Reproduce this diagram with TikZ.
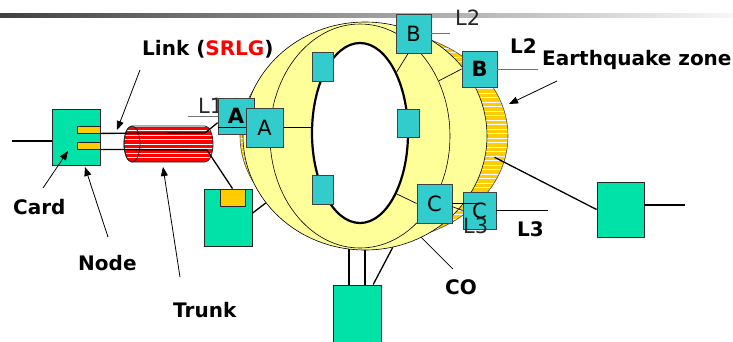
\documentclass[tikz,border=0pt]{standalone}
\usepackage{fontspec}
\setmainfont{DejaVu Sans}
\usepackage{tikz}
\usetikzlibrary{arrows.meta}
\usetikzlibrary{calc,shapes}

\definecolor{nodegreen}{RGB}{0,226,168}
\definecolor{portteal}{RGB}{51,204,204}
\definecolor{cardorange}{RGB}{255,204,0}
\definecolor{ringyellow}{RGB}{255,255,153}

\tikzset{
	nodebox/.style={draw=black!85,line width=0.9,fill=nodegreen,inner sep=0},
	cardbox/.style={draw=black!85,line width=0.8,fill=cardorange,inner sep=0},
	portbox/.style={draw=black!75,line width=0.8,fill=portteal,inner sep=0,font=\fontsize{21}{21}\selectfont},
	bold/.style={font=\fontsize{21}{21}\selectfont\bfseries},
	lbl/.style={font=\fontsize{20}{22}\selectfont\bfseries,inner sep=0},
	tag/.style={font=\fontsize{21}{22}\selectfont,text=black!85,inner sep=0},
	wire/.style={line width=1.3},
	thinwire/.style={line width=0.7},
	hint/.style={draw=black!55,line width=0.9},
	ptr/.style={line width=0.8,-{Triangle[length=9,width=7]}},
	stripes/.style={path picture={\foreach \k in {0,...,#1} \draw[white,line width=0.9] ($(path picture bounding box.north west)+(0,4.5*\k)$) -- ++(300,0);}},
}

\begin{document}
\begin{tikzpicture}[x=1pt,y=-1pt]
	\useasboundingbox (0,0) rectangle (733,341);
	\shade[left color=black!75,right color=black!3] (0,13) rectangle (733,17);
	% ring, earthquake zone and hole
	\node[ellipse,draw=black!70,line width=0.6,fill=cardorange,minimum width=268,minimum height=212,inner sep=0,stripes=50] (quake) at (374,136) {};
	\node[ellipse,draw,line width=0.6,fill=ringyellow,minimum width=244,minimum height=228,inner sep=0] (ring) at (365,136) {};
	\node[ellipse,draw,line width=0.6,minimum width=180,minimum height=224,inner sep=0] (mid) at (360,136) {};
	\node[ellipse,draw,line width=2.2,fill=white,minimum width=96,minimum height=180,inner sep=0] (hole) at (360,133) {};
	% trunk
	\path[draw=black!85,line width=0.8,fill=red,stripes=8] (132,126) -- (205,126) arc[start angle=-90,end angle=90,x radius=8,y radius=18]
		-- (132,162) arc[start angle=90,end angle=270,x radius=8,y radius=18] -- cycle;
	\draw[black!85,line width=0.8] (132,144) ellipse [x radius=8,y radius=18];
	% nodes and cards
	\node[nodebox,minimum width=48,minimum height=56] (nodeL) at (76,137) {};
	\node[cardbox,minimum width=23,minimum height=7] (card1) at (88.5,129.5) {};
	\node[cardbox,minimum width=23,minimum height=7] (card2) at (88.5,145.5) {};
	\node[nodebox,minimum width=48,minimum height=57] (nodeSW) at (228,217.5) {};
	\node[cardbox,minimum width=25,minimum height=17] (card3) at (232.5,197.5) {};
	\node[nodebox,minimum width=48,minimum height=60] (nodeB) at (357,315) {};
	\node[nodebox,minimum width=47,minimum height=55] (nodeR) at (620.5,209.5) {};
	% ports
	\node[tag,anchor=base west] (l1) at (198,113) {L1};
	\node[portbox,minimum width=21,minimum height=29] (p1) at (322.5,66.5) {};
	\node[portbox,minimum width=21,minimum height=29] (p2) at (322.5,189.5) {};
	\node[portbox,minimum width=22,minimum height=28] (p3) at (408,123) {};
	\node[portbox,bold,minimum width=36,minimum height=36] (A1) at (236,116) {A};
	\node[portbox,minimum width=37,minimum height=39] (A2) at (264.5,127.5) {A};
	\node[portbox,minimum width=35,minimum height=39] (B1) at (413.5,33.5) {B};
	\node[portbox,bold,minimum width=35,minimum height=36] (B2) at (479.5,69) {B};
	\node[portbox,minimum width=35,minimum height=39] (C1) at (434.5,203.5) {C};
	\node[portbox,minimum width=33,minimum height=37] (C2) at (479.5,210.5) {C};
	\node[tag,anchor=base west] (l2a) at (455,25) {L2};
	\node[lbl,anchor=base west] (l2b) at (510,53) {L2};
	\node[tag,anchor=base west] (l3a) at (463,233) {L3};
	\node[lbl,anchor=base west] (l3b) at (517,236) {L3};
	% labels
	\node[lbl,anchor=base west] (linkLbl) at (142,55) {Link (\textcolor{red}{SRLG})};
	\node[lbl,anchor=base west] (cardLbl) at (13,214) {Card};
	\node[lbl,anchor=base west] (nodeLbl) at (78,270) {Node};
	\node[lbl,anchor=base west] (trunkLbl) at (173,317) {Trunk};
	\node[lbl,anchor=base west] (coLbl) at (445,294) {CO};
	\node[lbl,anchor=base west] (eqLbl) at (542,65) {Earthquake zone};
	\coordinate (lIn) at (12,141);
	\coordinate (lk1) at (205,133);
	\coordinate (lk2) at (207,150);
	\coordinate (l1End) at (188,116);
	\coordinate (l2aEnd) at (450,33.5);
	\coordinate (l2bEnd) at (538,69);
	\coordinate (l3End) at (548,210.5);
	\coordinate (rOut) at (685,205);
	% connectors
	\draw[wire] (lIn) -- (lIn -| nodeL.west);
	\draw[wire] (card1.south east) -- (lk1) -- (A1.200);
	\draw[wire] (card2.south east) -- (lk2) -- (card3.north);
	\draw[wire] (nodeSW.10) -- (ring.214);
	\draw[thinwire] (A1.west |- A2.west) -- (A2.west);
	\draw[thinwire] (A2.east) -- (A2.east -| hole.west);
	\draw[hint] (l1End) -- (A1.west);
	\draw[thinwire] (B1.-105) -- (hole.59);
	\draw[thinwire] (B2.west) -- (mid.35);
	\draw[hint] (B1.east) -- (l2aEnd);
	\draw[hint] (B2.east) -- (l2bEnd);
	\draw[thinwire] (C1.west) -- (hole.-59);
	\draw[thinwire] (C1.east) -- (C1.east -| C2.center);
	\draw[thinwire] (C1.-10) -- (C2.west);
	\draw[thinwire] (C2.east) -- (l3End);
	\draw[wire] (ring.-98) -- (ring.-98 |- nodeB.north);
	\draw[wire] (ring.south) -- (ring.south |- nodeB.north);
	\draw[wire] (nodeB.62) -- (ring.-76);
	\draw[wire] (nodeR.west) -- ($(quake.center)!0.92!(quake.-10)$);
	\draw[wire] (rOut -| nodeR.east) -- (rOut);
	% pointers
	\coordinate (linkTail) at (140,70);  \coordinate (linkTip) at (117,130);
	\coordinate (cardTail) at (43,188);  \coordinate (cardTip) at (68,151);
	\coordinate (nodeTail) at (108,237); \coordinate (nodeTip) at (85,167);
	\coordinate (trunkTail) at (180,277); \coordinate (trunkTip) at (163,167);
	\coordinate (eqTail) at (557,81);    \coordinate (eqTip) at (509,104);
	\coordinate (coTail) at (453,269);
	\draw[ptr] (linkTail) -- (linkTip);
	\draw[ptr] (cardTail) -- (cardTip);
	\draw[ptr] (nodeTail) -- (nodeTip);
	\draw[ptr] (trunkTail) -- (trunkTip);
	\draw[ptr] (eqTail) -- (eqTip);
	\draw[thinwire] (coTail) -- (ring.-61);
\end{tikzpicture}
\end{document}
